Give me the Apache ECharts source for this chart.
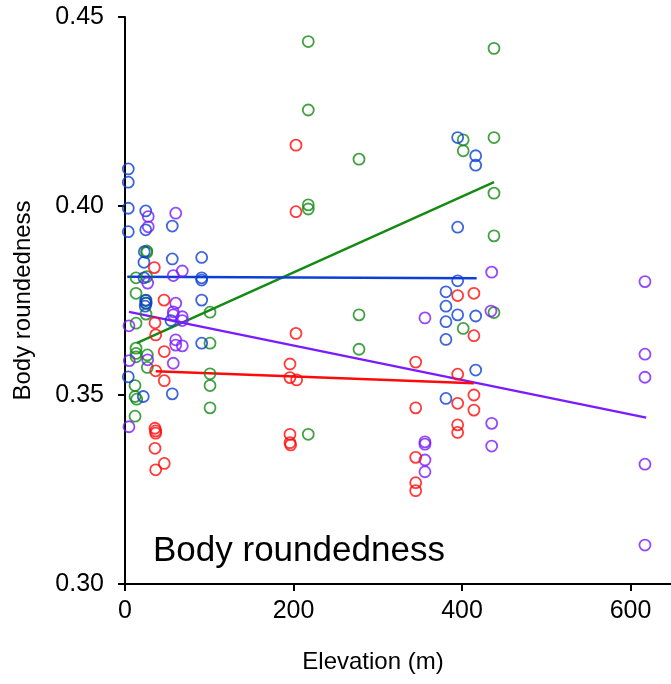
<!DOCTYPE html>
<html>
<head>
<meta charset="utf-8">
<script src="https://cdn.jsdelivr.net/npm/echarts@6/dist/echarts.min.js"></script>
<style>
  html, body { margin: 0; padding: 0; background: #fff; }
  #main { width: 671px; height: 684px; }
</style>
</head>
<body>
<div id="main"></div>
<script>
// 数据：海拔(m) 与 体圆度，四组
var xTicks = [0, 200, 400, 600];
var yTicks = [0.30, 0.35, 0.40, 0.45];

var blueX = [3.9, 3.9, 3.9, 24.6, 56.1, 24.6, 3.9, 22.9, 56.1, 91.0, 22.5, 91.0, 91.0, 22.5, 91.0, 24.6, 24.9, 24.0,
  54.6, 91.0, 3.9, 21.7, 56.1,
  394.8, 416.2, 416.2, 394.8, 394.8, 380.9, 380.9, 394.8, 416.2, 380.9, 380.9, 416.2, 380.9];
var blueY = [0.4098, 0.4063, 0.3994, 0.3987, 0.3947, 0.3937, 0.3932, 0.3879, 0.3860, 0.3864, 0.3851, 0.3810, 0.3804, 0.3810, 0.3751, 0.3750, 0.3743, 0.3735,
  0.3697, 0.3637, 0.3548, 0.3496, 0.3503,
  0.4181, 0.4133, 0.4108, 0.3944, 0.3802, 0.3773, 0.3735, 0.3712, 0.3709, 0.3694, 0.3647, 0.3566, 0.3491];

var redX = [34.8, 35.6, 36.4, 46.6, 36.4, 46.6, 46.3, 35.6, 36.4, 36.4, 35.6, 46.6, 36.4,
  202.9, 202.9, 195.8, 195.8, 203.7, 195.8, 195.8, 196.6, 202.9,
  345, 345, 345, 345, 345,
  394.8, 414.1, 414.1, 394.8, 414.1, 394.8, 414.1, 394.8, 394.8];
var redY = [0.3837, 0.3691, 0.3659, 0.3615, 0.3564, 0.3538, 0.3751, 0.3412, 0.3405, 0.3399, 0.3359, 0.3319, 0.3302,
  0.4161, 0.3663, 0.3582, 0.3546, 0.3540, 0.3396, 0.3374, 0.3368, 0.3985,
  0.3587, 0.3466, 0.3335, 0.3268, 0.3247,
  0.3763, 0.3769, 0.3657, 0.3555, 0.3500, 0.3478, 0.3460, 0.3421, 0.3401];

var greenX = [25.8, 25.8, 13.1, 25.8, 13.1, 24.9, 24.9, 24.9, 13.1, 13.1, 13.1, 13.1, 26.5, 26.5, 11.9, 11.9, 13.9, 11.9,
  100.9, 100.9, 100.9, 100.9, 100.9,
  217.5, 217.5, 217.5, 217.5, 217.5,
  277.7, 277.7, 277.7,
  437.9, 401.4, 401.4, 437.9, 437.9, 437.9, 437.9, 401.4];
var greenY = [0.3881, 0.3877, 0.3810, 0.3813, 0.3769, 0.3751, 0.3743, 0.3714, 0.3690, 0.3624, 0.3610, 0.3601, 0.3606, 0.3573, 0.3525, 0.3496, 0.3489, 0.3444,
  0.3719, 0.3637, 0.3556, 0.3525, 0.3466,
  0.4435, 0.4254, 0.4003, 0.3992, 0.3396,
  0.4124, 0.3712, 0.3621,
  0.4417, 0.4175, 0.4146, 0.4181, 0.4034, 0.3921, 0.3718, 0.3676];

var purpleX = [60.2, 27.6, 27.6, 68.0, 57.3, 26.9, 60.2, 57.3, 57.3, 68.0, 68.0, 4.7, 60.2, 60.2, 68.0, 5.1, 26.9, 57.3, 4.7,
  356, 356, 356, 356, 356,
  434.3, 435.2, 435.2, 435.2,
  617.1, 617.1, 617.1, 617.1, 617.1];
var purpleY = [0.3981, 0.3972, 0.3945, 0.3828, 0.3816, 0.3796, 0.3743, 0.3720, 0.3712, 0.3707, 0.3697, 0.3683, 0.3646, 0.3632, 0.3630, 0.3591, 0.3593, 0.3584, 0.3416,
  0.3704, 0.3376, 0.3370, 0.3328, 0.3297,
  0.3722, 0.3825, 0.3425, 0.3365,
  0.3800, 0.3608, 0.3547, 0.3317, 0.3103];

// 回归线端点 [x起, x止], [y起, y止]
var blueFitX = [2.7, 417.3], blueFitY = [0.3813, 0.3809];
var redFitX = [36.4, 414.1], redFitY = [0.3563, 0.3531];
var greenFitX = [13.9, 437.9], greenFitY = [0.3637, 0.4063];
var purpleFitX = [4.7, 618.6], purpleFitY = [0.3720, 0.3440];

var BLUE = "#0d3fd6", RED = "#ff0a0a", GREEN = "#148a14", PURPLE = "#7a1cff";
var FONT = "Liberation Sans, Arial";

function pairs(xs, ys) {
  var out = [];
  for (var i = 0; i < xs.length; i++) out.push([xs[i], ys[i]]);
  return out;
}

function pts(xs, ys, color) {
  return {
    type: "scatter",
    data: pairs(xs, ys),
    symbol: "circle",
    symbolSize: 11,
    itemStyle: { color: "rgba(0,0,0,0)", borderColor: color, borderWidth: 1.8 },
    z: 3
  };
}

function fit(xs, ys, color) {
  return {
    type: "line",
    data: pairs(xs, ys),
    symbol: "none",
    lineStyle: { color: color, width: 2.4 },
    z: 2
  };
}

var myChart = echarts.init(document.getElementById("main"));
myChart.setOption({
  animation: false,
  title: {
    text: "Body roundedness",
    left: 148,
    top: 529,
    textStyle: { fontFamily: FONT, fontSize: 35, fontWeight: "normal", color: "#000" }
  },
  grid: { left: 125, top: 17, right: 0, bottom: 100 },
  xAxis: {
    type: "value",
    min: 0,
    max: 648,
    interval: 200,
    name: "Elevation (m)",
    nameLocation: "middle",
    nameGap: 66,
    nameTextStyle: { fontFamily: FONT, fontSize: 24, color: "#000", padding: [0, 50, 0, 0] },
    axisLine: { lineStyle: { color: "#000", width: 2 } },
    axisTick: { customValues: xTicks, length: 7, lineStyle: { width: 2 } },
    axisLabel: { customValues: xTicks, margin: 15, fontFamily: FONT, fontSize: 25, color: "#000" },
    splitLine: { show: false }
  },
  yAxis: {
    type: "value",
    min: 0.30,
    max: 0.45,
    interval: 0.05,
    name: "Body roundedness",
    nameLocation: "middle",
    nameGap: 90,
    nameTextStyle: { fontFamily: FONT, fontSize: 24, color: "#000" },
    axisLine: { show: true, lineStyle: { color: "#000", width: 2 } },
    axisTick: { show: true, customValues: yTicks, length: 7, lineStyle: { width: 2 } },
    axisLabel: {
      customValues: yTicks,
      margin: 21,
      fontFamily: FONT,
      fontSize: 25,
      color: "#000",
      formatter: function (v) { return v.toFixed(2); }
    },
    splitLine: { show: false }
  },
  series: [
    pts(greenX, greenY, GREEN),
    pts(blueX, blueY, BLUE),
    pts(purpleX, purpleY, PURPLE),
    pts(redX, redY, RED),
    fit(greenFitX, greenFitY, GREEN),
    fit(blueFitX, blueFitY, BLUE),
    fit(purpleFitX, purpleFitY, PURPLE),
    fit(redFitX, redFitY, RED)
  ]
});
</script>
</body>
</html>
